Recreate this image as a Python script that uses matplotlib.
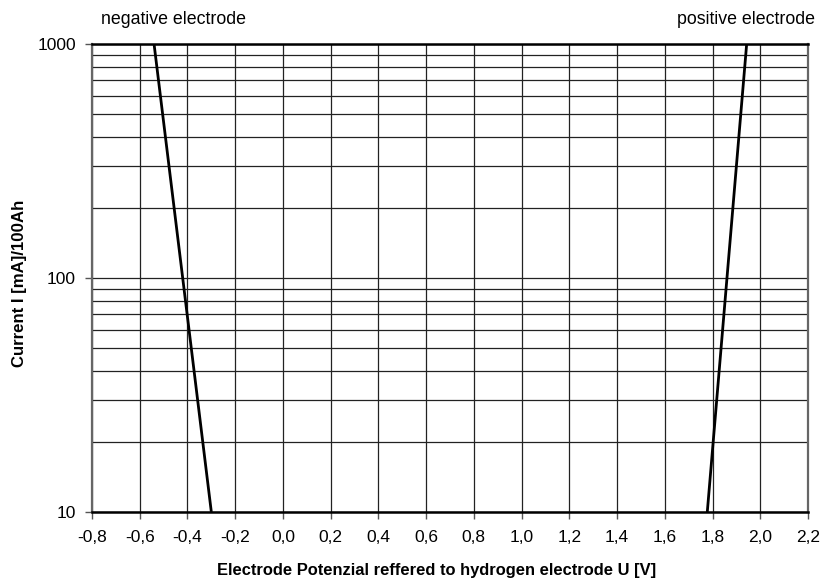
import matplotlib
matplotlib.use("Agg")
import matplotlib.pyplot as plt
from matplotlib.ticker import FixedLocator, FuncFormatter, NullFormatter
import numpy as np

plt.rcParams['font.family'] = ['Liberation Sans', 'DejaVu Sans']

# data
neg_u = [-0.54, -0.30]
neg_i = [1000, 10]
pos_u = [1.778, 1.943]
pos_i = [10, 1000]
x_ticks = [-0.8, -0.6, -0.4, -0.2, 0.0, 0.2, 0.4, 0.6, 0.8, 1.0, 1.2, 1.4, 1.6, 1.8, 2.0, 2.2]
y_ticks = [10, 100, 1000]

W, H = 825, 583
fig = plt.figure(figsize=(W/100, H/100), dpi=100)
ax = fig.add_axes([92/W, 1-512/H, (808-92)/W, (512-44)/H])

ax.set_yscale('log')
ax.set_xlim(-0.8, 2.2)
ax.set_ylim(10, 1000)

minor_y = [m * d for d in (10, 100) for m in range(2, 10)]
ax.yaxis.set_major_locator(FixedLocator(y_ticks))
ax.yaxis.set_minor_locator(FixedLocator(minor_y))
ax.yaxis.set_major_formatter(FuncFormatter(lambda v, p: f"{int(round(v))}"))
ax.yaxis.set_minor_formatter(NullFormatter())
ax.xaxis.set_major_locator(FixedLocator(x_ticks))
ax.xaxis.set_major_formatter(FuncFormatter(lambda v, p: f"{v:.1f}".replace('.', ',').replace('-0,0', '0,0')))

ax.grid(True, which='major', axis='x', color='#222222', lw=0.9)
ax.grid(True, which='both', axis='y', color='#222222', lw=0.9)
ax.set_axisbelow(True)

ax.tick_params(axis='both', which='major', direction='out', length=5, width=1, labelsize=12.5, color='#555555')
ax.tick_params(axis='x', which='major', pad=8)
ax.tick_params(axis='y', which='major', pad=6.5)
ax.tick_params(axis='y', which='minor', length=0)

for s in ('top', 'bottom'):
    ax.spines[s].set_linewidth(1.8)
    ax.spines[s].set_color('black')
for s in ('left', 'right'):
    ax.spines[s].set_linewidth(1.6)
    ax.spines[s].set_color('#666666')

ax.plot(neg_u, neg_i, color='black', lw=2.0, solid_capstyle='butt')
ax.plot(pos_u, pos_i, color='black', lw=2.0, solid_capstyle='butt')

fig.text(437/W, 1-570/H, 'Electrode Potenzial reffered to hydrogen electrode U [V]',
         fontsize=11.9, fontweight='bold', ha='center', va='center')
fig.text(20/W, 1-283/H, 'Current I [mA]/100Ah', fontsize=12.1, fontweight='bold',
         ha='center', va='center', rotation=90)

fig.text(101/W, 1-19/H, 'negative electrode', fontsize=12.8, ha='left', va='center')
fig.text(815/W, 1-19/H, 'positive electrode', fontsize=12.8, ha='right', va='center')

fig.savefig('out.png', dpi=100)
